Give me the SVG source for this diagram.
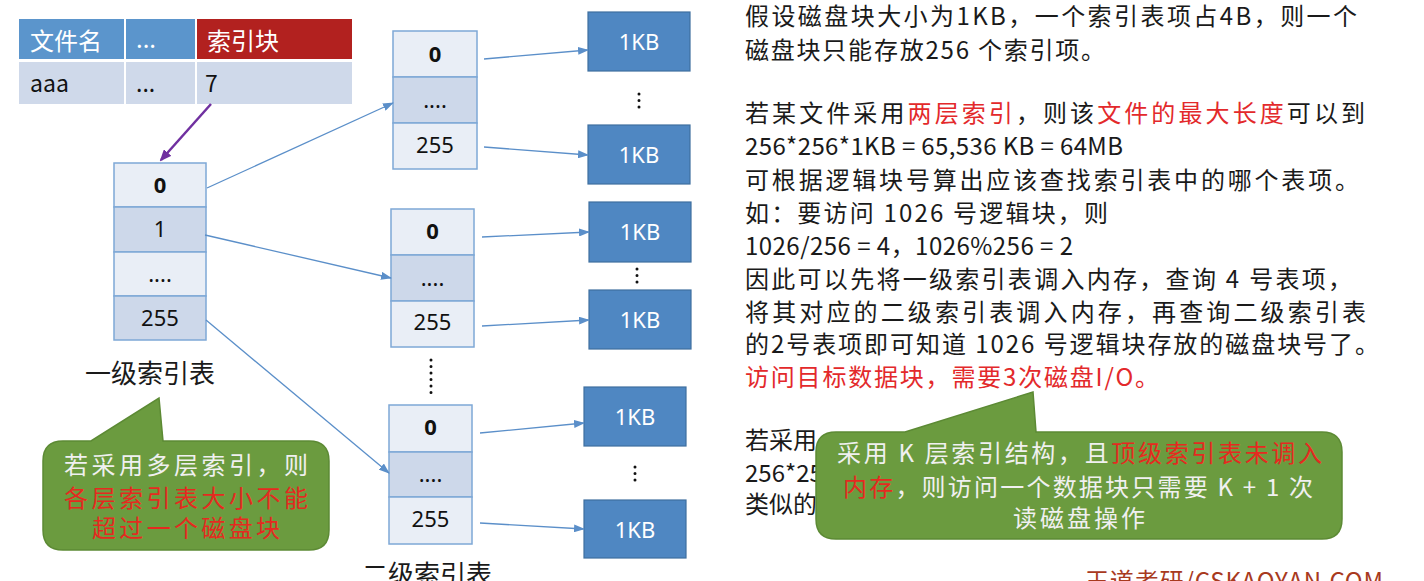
<svg xmlns="http://www.w3.org/2000/svg" width="1424" height="581" viewBox="0 0 1424 581">
<defs>
<style>
.cjk{font-family:"Noto Sans CJK SC","Noto Sans",sans-serif}
.hd{fill:#ffffff;font-size:24px}
.cell{fill:#111111;font-size:23px}
.idx{font-family:"Noto Sans","Noto Sans CJK SC",sans-serif;font-size:22px;fill:#111111;text-anchor:middle}
.b{font-weight:bold}
.lt{fill:#e9eef6;stroke:#7ea8d6;stroke-width:1.5}
.dk{fill:#cdd8ea;stroke:#7ea8d6;stroke-width:1.5}
.kb{fill:#4f87c2;stroke:#3f6f9f;stroke-width:1.2}
.kbt{font-family:"Noto Sans","Noto Sans CJK SC",sans-serif;font-size:22px;fill:#ffffff;text-anchor:middle}
.con{stroke:#5b8fc9;stroke-width:1.3;fill:none;marker-end:url(#ah)}
.dots{stroke:#111111;stroke-width:3;stroke-linecap:round;stroke-dasharray:0 6.5;fill:none}
.rt{font-size:24px;fill:#1a1a1a}
.red{fill:#e3292b}
.green{fill:#6b9b3f;stroke:#5c8a34;stroke-width:1.5}
.gt{font-size:24px;fill:#f0f0f0}
.gr{fill:#e52a1f}
.lbl{font-size:26px;fill:#1a1a1a;text-anchor:middle}
</style>
<marker id="ah" markerUnits="userSpaceOnUse" markerWidth="11" markerHeight="8" refX="10" refY="4" orient="auto">
<path d="M0,0 L11,4 L0,8 z" fill="#5b8fc9"/>
</marker>
<marker id="ahp" markerUnits="userSpaceOnUse" markerWidth="12" markerHeight="10" refX="10" refY="5" orient="auto">
<path d="M0,0 L12,5 L0,10 z" fill="#7030a0"/>
</marker>
</defs>
<rect width="1424" height="581" fill="#ffffff"/>

<g id="file-table">
<rect x="19" y="19" width="105" height="40" fill="#5b95cc"/>
<rect x="126" y="19" width="69" height="40" fill="#5b95cc"/>
<rect x="197" y="19" width="155" height="40" fill="#b2211f"/>
<rect x="19" y="62" width="105" height="42" fill="#cfd9ea"/>
<rect x="126" y="62" width="69" height="42" fill="#cfd9ea"/>
<rect x="197" y="62" width="155" height="42" fill="#cfd9ea"/>
<text class="cjk hd" x="30" y="50">文件名</text>
<text class="cjk hd" x="136" y="48">...</text>
<text class="cjk hd" x="207" y="50">索引块</text>
<text class="cjk cell" x="30" y="92">aaa</text>
<text class="cjk cell" x="136" y="92">...</text>
<text class="cjk cell" x="205" y="92">7</text>
</g>

<g id="level1">
<rect class="lt" x="114" y="163" width="92" height="44"/>
<rect class="dk" x="114" y="207" width="92" height="45"/>
<rect class="lt" x="114" y="252" width="92" height="44"/>
<rect class="dk" x="114" y="296" width="92" height="44"/>
<text class="idx b" x="160" y="193">0</text>
<text class="idx" x="160" y="237">1</text>
<text class="idx" x="160" y="282">....</text>
<text class="idx" x="160" y="326">255</text>
<text class="cjk lbl" x="150" y="383">一级索引表</text>
</g>

<g id="level2-a">
<rect class="lt" x="393" y="31" width="84" height="46"/>
<rect class="dk" x="393" y="77" width="84" height="46"/>
<rect class="lt" x="393" y="123" width="84" height="46"/>
<text class="idx b" x="435" y="62">0</text>
<text class="idx" x="435" y="108">....</text>
<text class="idx" x="435" y="153">255</text>
</g>
<g id="level2-b">
<rect class="lt" x="391" y="209" width="83" height="46"/>
<rect class="dk" x="391" y="255" width="83" height="46"/>
<rect class="lt" x="391" y="301" width="83" height="46"/>
<text class="idx b" x="432.5" y="239">0</text>
<text class="idx" x="432.5" y="286">....</text>
<text class="idx" x="432.5" y="330">255</text>
</g>
<g id="level2-c">
<rect class="lt" x="389" y="405" width="83" height="47"/>
<rect class="dk" x="389" y="452" width="83" height="45"/>
<rect class="lt" x="389" y="497" width="83" height="47"/>
<text class="idx b" x="430.5" y="435">0</text>
<text class="idx" x="430.5" y="482">....</text>
<text class="idx" x="430.5" y="527">255</text>
<text class="cjk lbl" x="427" y="584">二级索引表</text>
</g>
<g id="level2-dots"><line class="dots" x1="431" y1="360" x2="431" y2="396.5"/></g>

<g id="blocks">
<rect class="kb" x="588" y="12" width="102" height="59"/>
<text class="kbt" x="639" y="50">1KB</text>
<rect class="kb" x="588" y="125" width="102" height="59"/>
<text class="kbt" x="639" y="163">1KB</text>
<line class="dots" x1="639" y1="94" x2="639" y2="107.5"/>
<rect class="kb" x="589" y="202" width="102" height="60"/>
<text class="kbt" x="640" y="240">1KB</text>
<rect class="kb" x="589" y="290" width="102" height="59"/>
<text class="kbt" x="640" y="328">1KB</text>
<line class="dots" x1="637" y1="269" x2="637" y2="282.5"/>
<rect class="kb" x="584" y="387" width="102" height="59"/>
<text class="kbt" x="635" y="425">1KB</text>
<rect class="kb" x="584" y="500" width="102" height="58"/>
<text class="kbt" x="635" y="538">1KB</text>
<line class="dots" x1="635" y1="467" x2="635" y2="480.5"/>
</g>

<g id="connectors">
<line x1="211" y1="104" x2="161" y2="160" stroke="#7030a0" stroke-width="2.5" marker-end="url(#ahp)"/>
<line class="con" x1="207" y1="188" x2="393" y2="103"/>
<line class="con" x1="205" y1="235" x2="391" y2="278"/>
<line class="con" x1="206" y1="320" x2="389" y2="473"/>
<line class="con" x1="484" y1="59" x2="588" y2="50"/>
<line class="con" x1="484" y1="147" x2="588" y2="155"/>
<line class="con" x1="482" y1="237" x2="589" y2="232"/>
<line class="con" x1="482" y1="326" x2="589" y2="320"/>
<line class="con" x1="480" y1="433" x2="584" y2="423"/>
<line class="con" x1="480" y1="523" x2="584" y2="529"/>
</g>

<g id="notes">
<text class="cjk rt" x="745" y="25" textLength="612">假设磁盘块大小为1KB，一个索引表项占4B，则一个</text>
<text class="cjk rt" x="745" y="59" textLength="360">磁盘块只能存放256 个索引项。</text>
<text class="cjk rt" x="745" y="122" textLength="620">若某文件采用<tspan class="red">两层索引</tspan>，则该<tspan class="red">文件的最大长度</tspan>可以到</text>
<text class="cjk rt" x="745" y="155" textLength="378">256*256*1KB = 65,536 KB = 64MB</text>
<text class="cjk rt" x="745" y="189" textLength="614">可根据逻辑块号算出应该查找索引表中的哪个表项。</text>
<text class="cjk rt" x="745" y="222" textLength="363">如：要访问 1026 号逻辑块，则</text>
<text class="cjk rt" x="745" y="255" textLength="328">1026/256 = 4，1026%256 = 2</text>
<text class="cjk rt" x="745" y="288" textLength="607">因此可以先将一级索引表调入内存，查询 4 号表项，</text>
<text class="cjk rt" x="745" y="321" textLength="621">将其对应的二级索引表调入内存，再查询二级索引表</text>
<text class="cjk rt" x="745" y="353" textLength="634">的2号表项即可知道 1026 号逻辑块存放的磁盘块号了。</text>
<text class="cjk rt red" x="745" y="386" textLength="414">访问目标数据块，需要3次磁盘I/O。</text>
<text class="cjk rt" x="745" y="449">若采用</text>
<text class="cjk rt" x="745" y="482">256*25</text>
<text class="cjk rt" x="745" y="513">类似的</text>
</g>

<g id="callout-1">
<path class="green" d="M63,441 L91,441 L159,398 L163,441 L309,441 Q329,441 329,461 L329,530 Q329,550 309,550 L63,550 Q43,550 43,530 L43,461 Q43,441 63,441 Z"/>
<text class="cjk gt" x="186" y="474" text-anchor="middle" textLength="244">若采用多层索引，则</text>
<text class="cjk gt gr" x="186" y="507" text-anchor="middle" textLength="244">各层索引表大小不能</text>
<text class="cjk gt gr" x="186" y="537" text-anchor="middle" textLength="188">超过一个磁盘块</text>
</g>

<g id="callout-2">
<path class="green" d="M836,432 L905,432 L1033,392 L1036,432 L1322,432 Q1342,432 1342,452 L1342,519 Q1342,539 1322,539 L836,539 Q816,539 816,519 L816,452 Q816,432 836,432 Z"/>
<text class="cjk gt" x="837" y="462" textLength="485">采用 K 层索引结构，且<tspan class="gr">顶级索引表未调入</tspan></text>
<text class="cjk gt" x="843" y="496" textLength="470"><tspan class="gr">内存</tspan>，则访问一个数据块只需要 K + 1 次</text>
<text class="cjk gt" x="1079" y="527" text-anchor="middle" textLength="132">读磁盘操作</text>
</g>

<g id="watermark">
<text class="cjk" x="1085" y="590" font-size="24" fill="#a83a1e" textLength="298">王道考研/CSKAOYAN.COM</text>
</g>
</svg>
